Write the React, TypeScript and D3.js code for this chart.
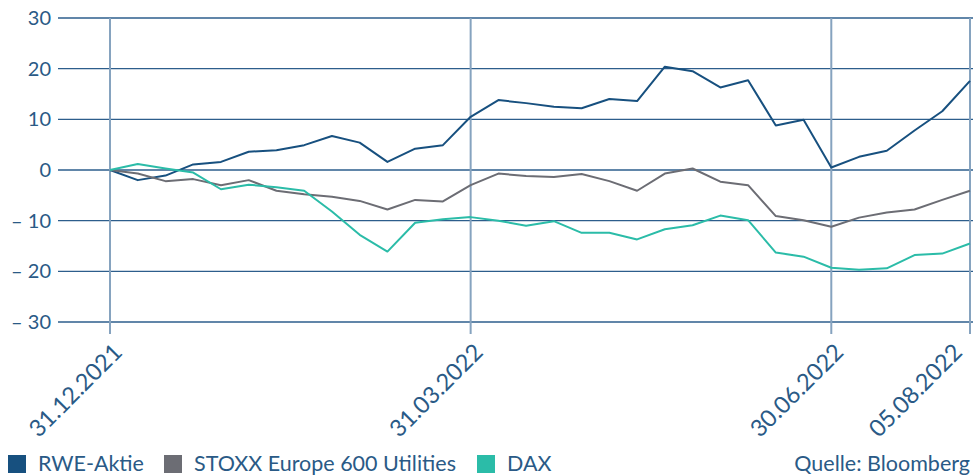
import React, { useEffect, useRef } from 'react';
import * as d3 from 'd3';

// weekly closing dates (Fridays, quarter ends replaced)
const dates = [
    '31.12.2021', '07.01.2022', '14.01.2022', '21.01.2022', '28.01.2022', '04.02.2022', '11.02.2022', '18.02.2022',
    '25.02.2022', '04.03.2022', '11.03.2022', '18.03.2022', '25.03.2022', '31.03.2022', '08.04.2022', '15.04.2022',
    '22.04.2022', '29.04.2022', '06.05.2022', '13.05.2022', '20.05.2022', '27.05.2022', '03.06.2022', '10.06.2022',
    '17.06.2022', '24.06.2022', '30.06.2022', '08.07.2022', '15.07.2022', '22.07.2022', '29.07.2022', '05.08.2022',
];
const tickDates = ['31.12.2021', '31.03.2022', '30.06.2022', '05.08.2022'];
const yTicks = [30, 20, 10, 0, -10, -20, -30];

// performance in %
const rwe = [
    0, -2.0, -1.1, 1.1, 1.6, 3.6, 3.9, 4.9, 6.7, 5.4, 1.6, 4.2, 4.9, 10.5, 13.8, 13.2,
    12.5, 12.2, 14.0, 13.6, 20.4, 19.5, 16.3, 17.7, 8.8, 9.9, 0.5, 2.6, 3.8, 7.8, 11.6, 17.6,
];
const stoxx = [
    0, -0.7, -2.2, -1.8, -3.0, -2.0, -4.1, -4.8, -5.3, -6.1, -7.8, -5.9, -6.2, -3.0, -0.7, -1.2,
    -1.4, -0.8, -2.2, -4.1, -0.7, 0.3, -2.3, -3.0, -9.1, -9.9, -11.2, -9.4, -8.4, -7.8, -5.9, -4.1,
];
const dax = [
    0, 1.2, 0.3, -0.5, -3.8, -2.9, -3.4, -4.1, -8.2, -12.8, -16.1, -10.4, -9.7, -9.3, -10.0, -11.0,
    -10.1, -12.4, -12.4, -13.7, -11.7, -10.9, -9.0, -9.9, -16.3, -17.1, -19.3, -19.7, -19.4, -16.8, -16.5, -14.5,
];

const seriesNames = ['RWE-Aktie', 'STOXX Europe 600 Utilities', 'DAX'];
const seriesValues = [rwe, stoxx, dax];
const colors = ['#17507f', '#6c6d74', '#2bbca8'];

const App = () => {
    const chartRef = useRef(null);

    useEffect(() => {
        const svg = d3.select(chartRef.current);
        svg.selectAll('*').remove();

        const width = 973;
        const height = 476;
        const font = 'Lato, "Open Sans", sans-serif';
        const textColor = '#2a5a86';

        const x = d3.scalePoint().domain(dates).range([110, 970]);
        const y = d3.scaleLinear().domain([-30, 30]).range([322, 18]);

        svg.append('rect').attr('width', width).attr('height', height).attr('fill', '#ffffff');

        // horizontal grid
        svg.append('g')
            .selectAll('line')
            .data(yTicks)
            .enter()
            .append('line')
            .attr('x1', 58)
            .attr('x2', 973)
            .attr('y1', d => y(d))
            .attr('y2', d => y(d))
            .attr('stroke', '#2d5e8c')
            .attr('stroke-width', 1.3);

        // y labels
        svg.append('g')
            .selectAll('text')
            .data(yTicks)
            .enter()
            .append('text')
            .attr('x', 51)
            .attr('y', d => y(d))
            .attr('dy', '0.35em')
            .attr('text-anchor', 'end')
            .attr('font-family', font)
            .attr('font-size', 20)
            .attr('fill', textColor)
            .text(d => (d < 0 ? '– ' + Math.abs(d) : String(d)));

        // vertical date lines
        svg.append('g')
            .selectAll('line')
            .data(tickDates)
            .enter()
            .append('line')
            .attr('x1', d => x(d))
            .attr('x2', d => x(d))
            .attr('y1', y(30))
            .attr('y2', 334)
            .attr('stroke', '#86a3bf')
            .attr('stroke-width', 2);

        // x labels (last one pulled in so it stays inside)
        svg.append('g')
            .selectAll('text')
            .data(tickDates)
            .enter()
            .append('text')
            .attr('transform', d => `translate(${Math.min(x(d) + 2, 952)},${342}) rotate(-45)`)
            .attr('text-anchor', 'end')
            .attr('dy', '0.7em')
            .attr('font-family', font)
            .attr('font-size', 23.5)
            .attr('fill', textColor)
            .text(d => d);

        // lines
        const line = d3.line()
            .x((d, i) => x(dates[i]))
            .y(d => y(d));

        seriesValues.forEach((values, i) => {
            svg.append('path')
                .datum(values)
                .attr('fill', 'none')
                .attr('stroke', colors[i])
                .attr('stroke-width', 2)
                .attr('stroke-linejoin', 'round')
                .attr('d', line);
        });

        // legend
        const legendX = [8, 164, 477];
        const legend = svg.append('g');
        seriesNames.forEach((name, i) => {
            legend.append('rect')
                .attr('x', legendX[i])
                .attr('y', 455)
                .attr('width', 18)
                .attr('height', 18)
                .attr('fill', colors[i]);
            legend.append('text')
                .attr('x', legendX[i] + 30)
                .attr('y', 471)
                .attr('font-family', font)
                .attr('font-size', 21.5)
                .attr('fill', textColor)
                .text(name);
        });

        svg.append('text')
            .attr('x', 970)
            .attr('y', 471)
            .attr('text-anchor', 'end')
            .attr('font-family', font)
            .attr('font-size', 21.5)
            .attr('fill', textColor)
            .text('Quelle: Bloomberg');
    }, []);

    return (
        <svg
            ref={chartRef}
            width={973}
            height={476}
            style={{ position: 'absolute', left: 0, top: 0, display: 'block' }}
        ></svg>
    );
};

export default App;
